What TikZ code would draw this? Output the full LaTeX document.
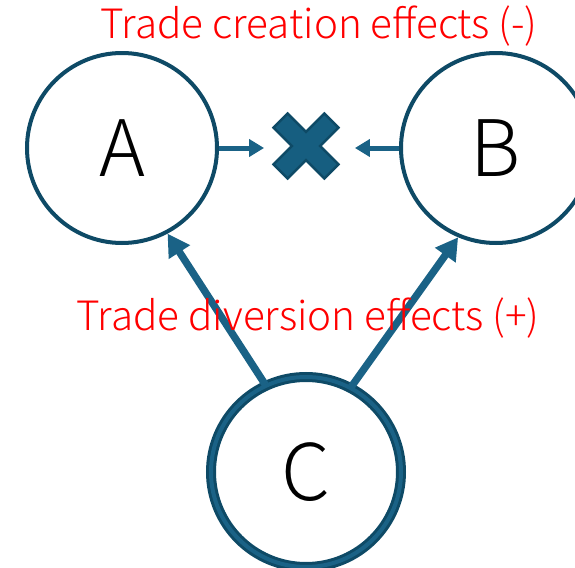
\documentclass[tikz,border=0pt]{standalone}
\usepackage{fontspec}
\setmainfont{Liberation Sans}
\newfontfamily\lightfont{Noto Sans CJK JP Light}
\usetikzlibrary{arrows.meta, positioning}

\definecolor{ringdark}{RGB}{14,74,102}
\definecolor{ringlight}{RGB}{26,98,134}
\definecolor{crossfill}{RGB}{22,94,128}
\definecolor{effectred}{RGB}{255,0,0}

\begin{document}
\begin{tikzpicture}[x=0.5pt, y=-0.5pt,
    country/.style={draw=ringdark, circle, line width=2pt, minimum size=95pt, inner sep=0pt, font=\lightfont\fontsize{39}{39}\selectfont},
    effect/.style={text=effectred, font=\lightfont\fontsize{20.2}{20.2}\selectfont, anchor=base, inner sep=0pt},
    flow/.style={draw=ringlight, line width=2.5pt, -{Triangle[length=7.5pt, width=8.5pt]}},
    divert/.style={draw=ringlight, line width=3.7pt, -{Triangle[length=11pt, width=12pt]}}]

    \useasboundingbox (0,0) rectangle (575,568);

    % ------------------ Countries ------------------

    \node[country] (A) at (122,148) {A};
    \node[country] (B) at (496,148) {B};
    \node[country, line width=1.5pt, double=ringlight, double distance=2pt] (C) at (306,472) {C};

    % Blocked trade between A and B
    \node[minimum size=32.5pt, inner sep=0pt] (block) at (306,146) {};
    \filldraw[fill=crossfill, draw=ringdark, line width=1.2pt, shift={(block.center)}, rotate=45]
        (10,10) -- (10,36) -- (-10,36) -- (-10,10) -- (-36,10) -- (-36,-10)
        -- (-10,-10) -- (-10,-36) -- (10,-36) -- (10,-10) -- (36,-10) -- (36,10) -- cycle;

    % Arrows
    \draw[flow, shorten >=4.5pt] (A.east) -- (block.west |- A.east);
    \draw[flow, shorten >=8pt] (B.west) -- (block.east |- B.west);
    \draw[divert] (C.115) -- (A.298);
    \draw[divert] (C.62) -- (B.247);

    % ------------------ Labels ------------------

    \node[effect] (creation) at (319,38) {Trade creation effects (-)};
    \node[effect] (diversion) at (308,330) {Trade diversion effects (+)};

\end{tikzpicture}
\end{document}
